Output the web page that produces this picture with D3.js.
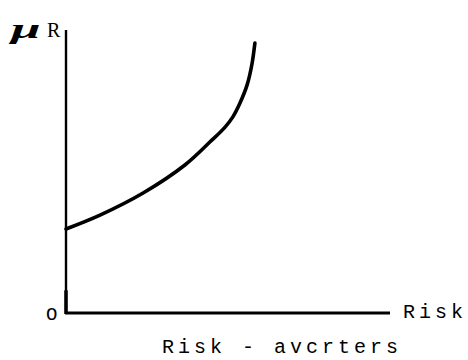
<!DOCTYPE html>
<html><head><meta charset="utf-8">
<script src="https://cdn.jsdelivr.net/npm/d3@7"></script>
<style>html,body{margin:0;padding:0;background:#fff;}svg{display:block;}</style>
</head><body>
<svg id="c" width="468" height="360"></svg>
<script>
// Data (risk on x, expected return on y) – risk-averter indifference curve
const risk = [0, 1.05, 2.38, 3.67, 4.44, 4.91, 5.15, 5.37, 5.59, 5.74, 5.83];
const expReturn = [2.97, 3.46, 4.24, 5.23, 6.04, 6.57, 6.93, 7.42, 8.06, 8.80, 9.54];
const xLabel = "Risk";
const yLabelMu = "\u03bc";
const yLabelR = "R";
const originLabel = "O";
const caption = "Risk - avcrters";

const svg = d3.select("#c");
const x = d3.scaleLinear().domain([0, 10]).range([66, 390]);
const y = d3.scaleLinear().domain([0, 10]).range([313, 30]);

// axes (no ticks)
svg.append("line").attr("x1", x(0)).attr("x2", x(0)).attr("y1", y(10)).attr("y2", y(0) + 1)
  .attr("stroke", "#000").attr("stroke-width", 2.4);
svg.append("line").attr("x1", x(0)).attr("x2", x(0)).attr("y1", y(0.8)).attr("y2", y(0) + 1)
  .attr("stroke", "#000").attr("stroke-width", 3.5);
svg.append("line").attr("x1", x(0) - 1).attr("x2", x(10)).attr("y1", y(0)).attr("y2", y(0))
  .attr("stroke", "#000").attr("stroke-width", 3);

// curve
const line = d3.line().x((d, i) => x(risk[i])).y(d => y(d)).curve(d3.curveCatmullRom.alpha(0.5));
svg.append("path").attr("d", line(expReturn)).attr("fill", "none")
  .attr("stroke", "#000").attr("stroke-width", 3.6).attr("stroke-linecap", "round");

// labels
const mono = "'Liberation Mono', 'DejaVu Sans Mono', monospace";
svg.append("text").attr("x", 403).attr("y", 318).attr("font-family", mono)
  .attr("font-size", 20).attr("textLength", 60).attr("lengthAdjust", "spacing").text(xLabel);
svg.append("text").attr("x", 46).attr("y", 320).attr("font-family", mono)
  .attr("font-size", 19).text(originLabel);
svg.append("text").attr("x", 162).attr("y", 353).attr("font-family", mono)
  .attr("font-size", 20).attr("textLength", 236).attr("lengthAdjust", "spacing").text(caption);

// y label: script mu + R
svg.append("text").attr("transform", "translate(11,38) scale(1.9,1)")
  .attr("font-family", "'Liberation Serif', serif").attr("font-style", "italic").attr("font-weight", "bold")
  .attr("font-size", 28).text(yLabelMu);
svg.append("text").attr("x", 47).attr("y", 37)
  .attr("font-family", "'Liberation Serif', serif").attr("font-size", 20).text(yLabelR);
</script>
</body></html>
